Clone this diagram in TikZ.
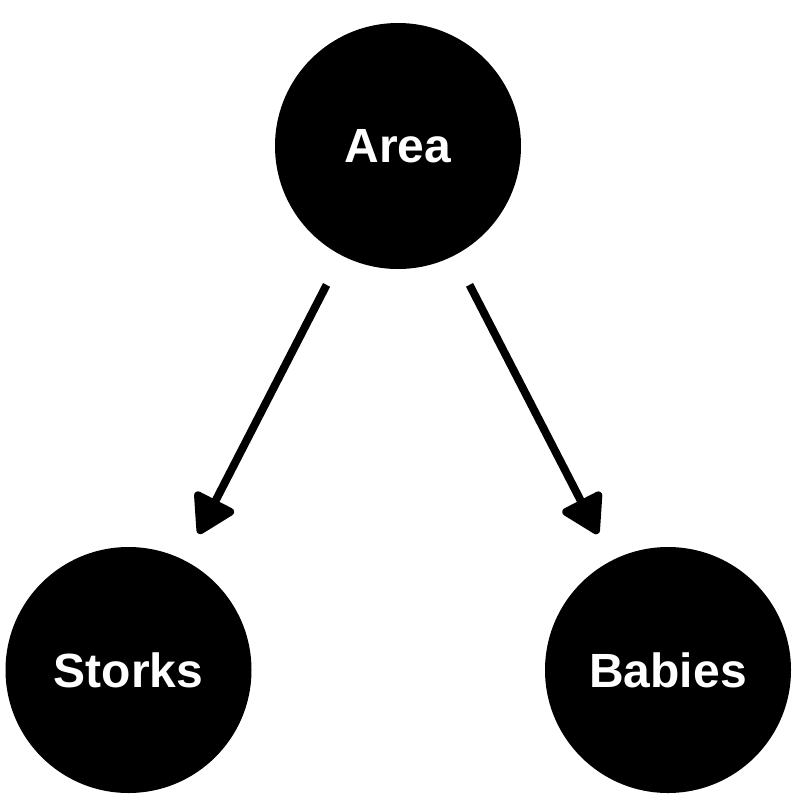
\documentclass[tikz,border=0pt]{standalone}
\usepackage{fontspec}
\setmainfont{Liberation Sans}
\usetikzlibrary{arrows.meta}
\begin{document}
\begin{tikzpicture}[x=1pt,y=-1pt,
  vnode/.style={circle,fill=black,draw=none,minimum size=246pt,inner sep=0pt,
    text=white,font=\fontsize{48}{58}\selectfont\bfseries},
  arr/.style={line width=8pt,-{Triangle[length=42pt,width=48pt,round]}}]
\useasboundingbox (0,0) rectangle (797,804);
\node[vnode] (area) at (398,146) {Area};
\node[vnode] (storks) at (128.5,670) {Storks};
\node[vnode] (babies) at (668,670) {Babies};
\draw[arr,shorten <=33pt,shorten >=30pt] (area) -- (storks);
\draw[arr,shorten <=33pt,shorten >=30pt] (area) -- (babies);
\end{tikzpicture}
\end{document}
